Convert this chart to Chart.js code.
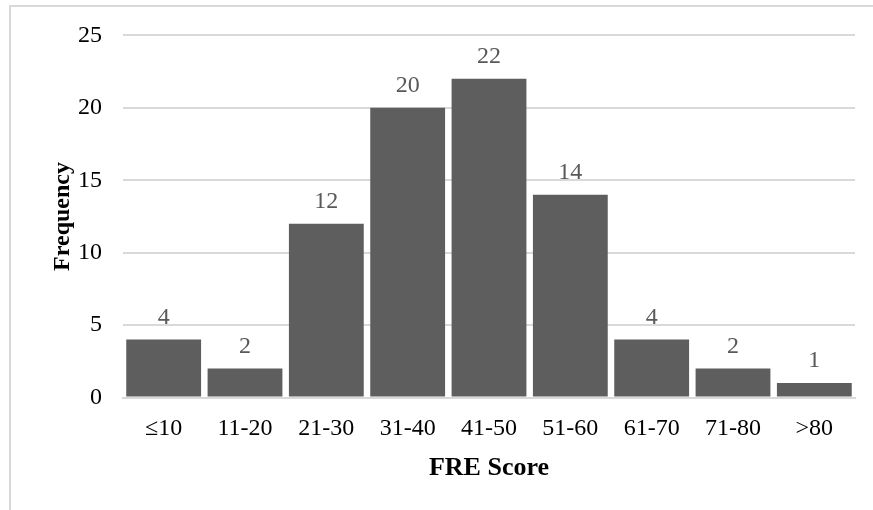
<!DOCTYPE html>
<html>
<head>
<meta charset="utf-8">
<script src="https://cdn.jsdelivr.net/npm/chart.js@4/dist/chart.umd.min.js"></script>
<style>
  html, body { margin: 0; padding: 0; background: #fff; }
  #wrap { position: relative; width: 873px; height: 510px; overflow: hidden; }
  #frame { position: absolute; left: 9px; top: 5px; right: -4px; bottom: -4px;
           border-left: 2px solid #d9d9d9; border-top: 2px solid #d9d9d9; }
  canvas { position: absolute; left: 0; top: 0; }
</style>
</head>
<body>
<div id="wrap">
  <div id="frame"></div>
  <canvas id="c" width="873" height="510"></canvas>
</div>
<script>
// FRE score bins and how many texts fall into each
const scoreBins = ['≤10', '11-20', '21-30', '31-40', '41-50', '51-60', '61-70', '71-80', '>80'];
const frequencies = [4, 2, 12, 20, 22, 14, 4, 2, 1];
const yTicks = [0, 5, 10, 15, 20, 25];

const serif = '"Liberation Serif", "Times New Roman", serif';
const gridGray = '#d9d9d9';
const barGray = '#5e5e5e';

// Writes each bar's value just above it
const valueLabels = {
  id: 'valueLabels',
  afterDatasetsDraw(chart) {
    const ctx = chart.ctx;
    const meta = chart.getDatasetMeta(0);
    ctx.save();
    ctx.font = '24px ' + serif;
    ctx.fillStyle = '#595959';
    ctx.textAlign = 'center';
    ctx.textBaseline = 'alphabetic';
    meta.data.forEach((bar, i) => {
      ctx.fillText(String(frequencies[i]), bar.x, bar.y - 16);
    });
    ctx.restore();
  }
};

new Chart(document.getElementById('c'), {
  type: 'bar',
  data: {
    labels: scoreBins,
    datasets: [{
      data: frequencies,
      backgroundColor: barGray,
      borderWidth: 0,
      barPercentage: 0.92,
      categoryPercentage: 1.0
    }]
  },
  options: {
    responsive: false,
    animation: false,
    devicePixelRatio: 1,
    layout: { padding: { left: 48, right: 18, top: 35, bottom: 26 } },
    plugins: { legend: { display: false }, tooltip: { enabled: false } },
    scales: {
      x: {
        grid: { display: false, drawTicks: false },
        border: { display: true, color: gridGray, width: 2 },
        ticks: { color: '#000', font: { family: serif, size: 24 }, padding: 17, maxRotation: 0 },
        title: { display: true, text: 'FRE Score', color: '#000',
                 font: { family: serif, size: 26, weight: 'bold' }, padding: 0 },
        afterFit(s) { s.height = 86.5; }
      },
      y: {
        min: 0, max: 25,
        afterBuildTicks(s) { s.ticks = yTicks.map(v => ({ value: v })); },
        grid: { color: gridGray, lineWidth: 2, drawTicks: false },
        border: { display: false },
        ticks: { color: '#000', font: { family: serif, size: 24 }, padding: 21 },
        title: { display: true, text: 'Frequency', color: '#000',
                 font: { family: serif, size: 24, weight: 'bold' }, padding: 0 },
        afterFit(s) { s.width = 75; }
      }
    }
  },
  plugins: [valueLabels]
});
</script>
</body>
</html>
